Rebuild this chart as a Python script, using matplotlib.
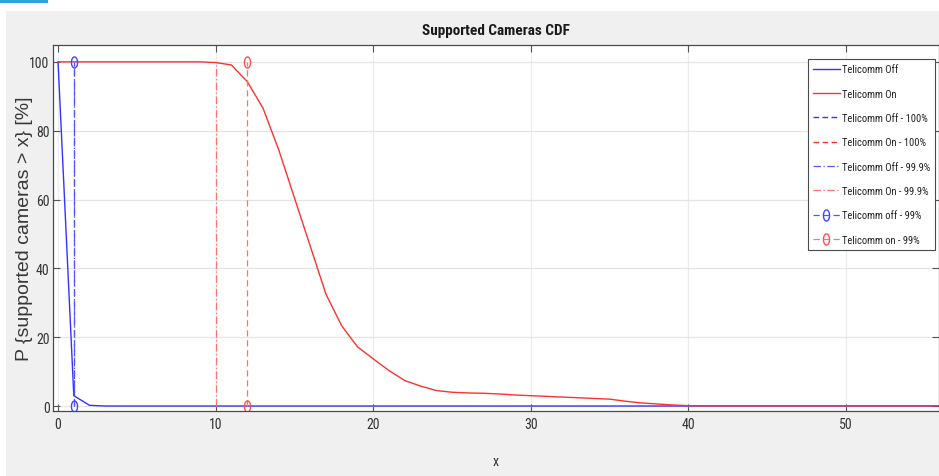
import numpy as np
import matplotlib.pyplot as plt
from matplotlib.patches import Rectangle
from matplotlib.path import Path

plt.rcParams['font.family'] = ['Roboto Condensed', 'Liberation Sans Narrow', 'DejaVu Sans']
plt.rcParams['font.stretch'] = 'condensed'

# data (P{supported cameras > x} in %)
x_vals = np.arange(0, 57)
telicomm_off = [100, 3, 0.2] + [0] * 54
telicomm_on = ([100] * 10 +
               [99.8, 99.1, 94.3, 86.6, 74.5, 60.5, 46.5, 32.5, 23.3, 17.2,
                13.7, 10.3, 7.4, 5.8, 4.5, 4.0, 3.8, 3.7, 3.5, 3.2,
                3.0, 2.8, 2.6, 2.4, 2.2, 2.0, 1.4, 0.9, 0.6, 0.3,
                0.1] + [0.05] * 16)

# percentile markers (x where the CDF crosses the level)
off_999 = 1
on_999 = 10
off_99 = 1
on_99 = 12
level_lo, level_hi = 0, 100

fig = plt.figure(figsize=(9.39, 4.77), dpi=100, facecolor='white')
# screenshot frame: grey panel + small blue tab top-left
fig.patches.append(Rectangle((6 / 939, 0), 1, (477 - 12) / 477, transform=fig.transFigure,
                             facecolor='#f0f0f0', edgecolor='none', zorder=-10))
fig.patches.append(Rectangle((0, 1 - 4 / 477), 48 / 939, 4 / 477, transform=fig.transFigure,
                             facecolor='#2aa4df', edgecolor='none', zorder=-9))

ax = fig.add_axes([53 / 939, 65 / 477, 886 / 939, 366 / 477])
ax.set_facecolor('white')

# tall ellipse marker, as in the stretched screenshot
t = np.linspace(0, 2 * np.pi, 40)
ell = Path(np.column_stack([0.55 * np.cos(t), np.sin(t)]))

ax.plot(x_vals, telicomm_off, color='#3333ff', lw=1.0, label='Telicomm Off')
ax.plot(x_vals, telicomm_on, color='#ff3030', lw=1.0, label='Telicomm On')
ax.plot([], [], color='#3333ff', lw=1.0, ls=(0, (4, 2.5)), label='Telicomm Off - 100%')
ax.plot([], [], color='#ff3030', lw=1.0, ls=(0, (4, 2.5)), label='Telicomm On - 100%')
ax.plot([off_999, off_999], [level_lo, level_hi], color='#5555ff', lw=0.9,
        ls=(0, (6, 2, 1, 2)), label='Telicomm Off - 99.9%')
ax.plot([on_999, on_999], [level_lo, level_hi], color='#ff7070', lw=0.9,
        ls=(0, (6, 2, 1, 2)), label='Telicomm On - 99.9%')
ax.plot([off_99, off_99], [level_lo, level_hi], color='#5555ff', lw=0.9,
        ls=(0, (5, 3)), marker=ell, ms=8, mfc='none', mec='#4444ff', mew=1.0,
        label='Telicomm off - 99%')
ax.plot([on_99, on_99], [level_lo, level_hi], color='#ff7070', lw=0.9,
        ls=(0, (5, 3)), marker=ell, ms=8, mfc='none', mec='#ff5050', mew=1.0,
        label='Telicomm on - 99%')

ax.set_xlim(-0.32, 55.9)
ax.set_ylim(-1.45, 104.9)
ax.set_xticks([0, 10, 20, 30, 40, 50])
ax.set_yticks([0, 20, 40, 60, 80, 100])
ax.xaxis.grid(True, color='#ececec', lw=0.9)
ax.yaxis.grid(True, color='#e4e4e4', lw=0.9)
ax.set_axisbelow(True)
ax.tick_params(direction='in', length=5, width=0.8, color='#555555',
               top=True, right=True, labelsize=10, labelcolor='#333333')
ax.tick_params(axis='y', pad=2.5)
ax.tick_params(axis='x', pad=4.5)
for s in ax.spines.values():
    s.set_color('#4a4a4a')
    s.set_linewidth(0.9)

ax.set_title('Supported Cameras CDF', fontsize=11, fontweight='bold', pad=8, color='#1a1a1a')
ax.set_xlabel('x', fontsize=10, color='#333333')
ax.xaxis.set_label_coords(0.5, -0.118)
ax.set_ylabel('P {supported cameras > x} [%]', fontsize=14, color='#383838',
              family=['Liberation Sans', 'DejaVu Sans'], stretch='normal')
ax.yaxis.set_label_coords(-0.0226, 0.5)

leg = ax.legend(loc='upper left', bbox_to_anchor=(808 / 939, 1 - 60 / 477),
                bbox_transform=fig.transFigure, fontsize=7.6, frameon=True,
                fancybox=False, edgecolor='#4a4a4a', framealpha=1,
                handlelength=2.5, handletextpad=0.2, labelspacing=1.36,
                borderpad=0.5, borderaxespad=0)
leg.get_frame().set_linewidth(0.8)
for txt in leg.get_texts():
    txt.set_color('#222222')

fig.savefig('out.png', dpi=100, facecolor=fig.get_facecolor())
